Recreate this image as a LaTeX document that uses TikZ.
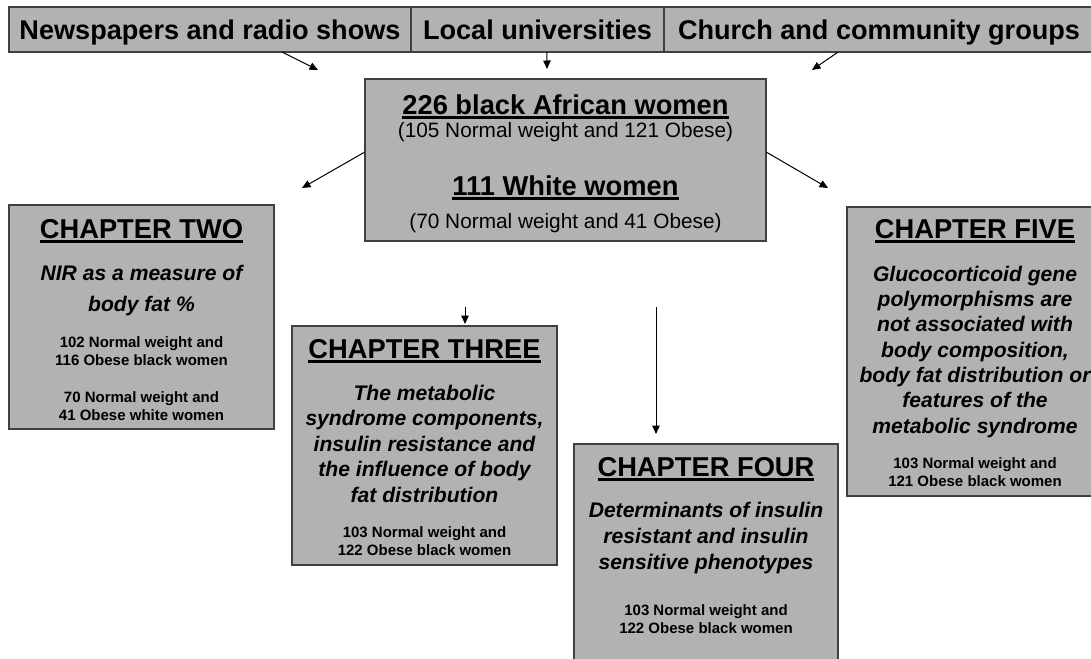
\documentclass[tikz,border=0pt]{standalone}
\usepackage{fontspec}
\setmainfont{Liberation Sans}
\usetikzlibrary{calc,positioning,arrows.meta}
\tikzset{box/.style={draw=black!75,line width=1.4pt,fill=black!30,inner sep=0pt,outer sep=0pt},
  topbox/.style={box,text height=32.3pt,text depth=12.7pt,font=\fontsize{27.1}{30}\selectfont\bfseries},
  chapbox/.style={box,anchor=north west,align=flush center},
  feed/.style={->,line width=1pt}}

\newcommand{\hstrut}[1]{\rule{0pt}{#1pt}}
\newcommand{\dstrut}[1]{\rule[-#1pt]{0pt}{#1pt}}
\newsavebox{\ulinebox}
\newcommand{\ulined}[1]{\leavevmode\sbox{\ulinebox}{#1}\rlap{\rule[-4.6pt]{\wd\ulinebox}{2.3pt}}\usebox{\ulinebox}}
\newcommand{\chaphead}[2]{{\fontsize{27.3}{30}\selectfont\bfseries\hstrut{#1}\ulined{#2}\par}}
\newcommand{\chapsubject}[3]{\vspace{#1pt}{\fontsize{21.1}{#2}\selectfont\bfseries\itshape #3\par}}
\newcommand{\chapcounts}[2]{\vspace{#1pt}{\fontsize{15}{18}\selectfont\bfseries #2\par}}

\begin{document}
\begin{tikzpicture}[x=1pt,y=-1pt,>={Triangle[length=8.5pt,width=7.5pt]}]

\useasboundingbox (0,0) rectangle (1091,658);
\clip (0,0) rectangle (1091,658);

% Recruitment sources
\node[topbox,minimum width=402pt,anchor=north west] (news) at (9,7) {Newspapers and radio shows};
\node[topbox,minimum width=253pt,right=0pt of news] (local) {Local universities};
\node[topbox,minimum width=430pt,right=0pt of local] (church) {Church and community groups};

% The study sample
\node[chapbox,text width=401pt] (sample) at (365,79) {\chaphead{35}{226 black African women}
  {\fontsize{20.8}{23}\selectfont (105 Normal weight and 121 Obese)\par}
  {\fontsize{27.3}{58}\selectfont\bfseries\ulined{111 White women}\par}
  {\fontsize{20.8}{33}\selectfont (70 Normal weight and 41 Obese)\dstrut{13}\par}};

% The chapters
\node[chapbox,text width=265pt] (chtwo) at (9,205) {\chaphead{33}{CHAPTER TWO}
  \chapsubject{11}{31}{NIR as a measure of\\body fat \%}
  \chapcounts{18}{102 Normal weight and\\116 Obese black women}
  \chapcounts{19}{70 Normal weight and\\41 Obese white women\dstrut{9}}};
\node[chapbox,text width=265pt] (chthree) at (292,326) {\chaphead{32}{CHAPTER THREE}
  \chapsubject{16.5}{25.5}{The metabolic\\syndrome components,\\insulin resistance and\\the influence of body\\fat distribution}
  \chapcounts{17}{103 Normal weight and\\122 Obese black women\dstrut{10}}};
\node[chapbox,text width=264pt] (chfour) at (574,444) {\chaphead{32}{CHAPTER FOUR}
  \chapsubject{15}{26}{Determinants of insulin\\resistant and insulin\\sensitive phenotypes}
  \chapcounts{28}{103 Normal weight and\\122 Obese black women\dstrut{47}}};
\node[chapbox,text width=256pt] (chfive) at (847,207) {\chaphead{31}{CHAPTER FIVE}
  \chapsubject{17.7}{25.33}{Glucocorticoid gene\\polymorphisms are\\not associated with\\body composition,\\body fat distribution or\\features of the\\metabolic syndrome}
  \chapcounts{17}{103 Normal weight and\\121 Obese black women\dstrut{10}}};

% Recruitment arrows
\coordinate (news-tip) at (318,70);
\coordinate (local-tip) at (547,69);
\coordinate (church-tip) at (812,70);
\draw[feed] ($(news.south west)!0.679!(news.south east)$) -- (news-tip);
\draw[feed] ($(local.south west)!0.537!(local.south east)$) -- (local-tip);
\draw[feed] ($(church.south west)!0.405!(church.south east)$) -- (church-tip);

% Chapter arrows
\coordinate (two-tip) at (302,188);
\coordinate (five-tip) at (828,188);
\coordinate (three-top) at (465,307);
\coordinate (four-top) at (656,307);
\draw[feed] ($(sample.north west)!0.45!(sample.south west)$) -- (two-tip);
\draw[feed] ($(sample.north east)!0.45!(sample.south east)$) -- (five-tip);
\draw[feed,shorten >=2pt] (three-top) -- (three-top |- chthree.north);
\draw[feed,shorten >=10pt] (four-top) -- (four-top |- chfour.north);

\end{tikzpicture}
\end{document}
